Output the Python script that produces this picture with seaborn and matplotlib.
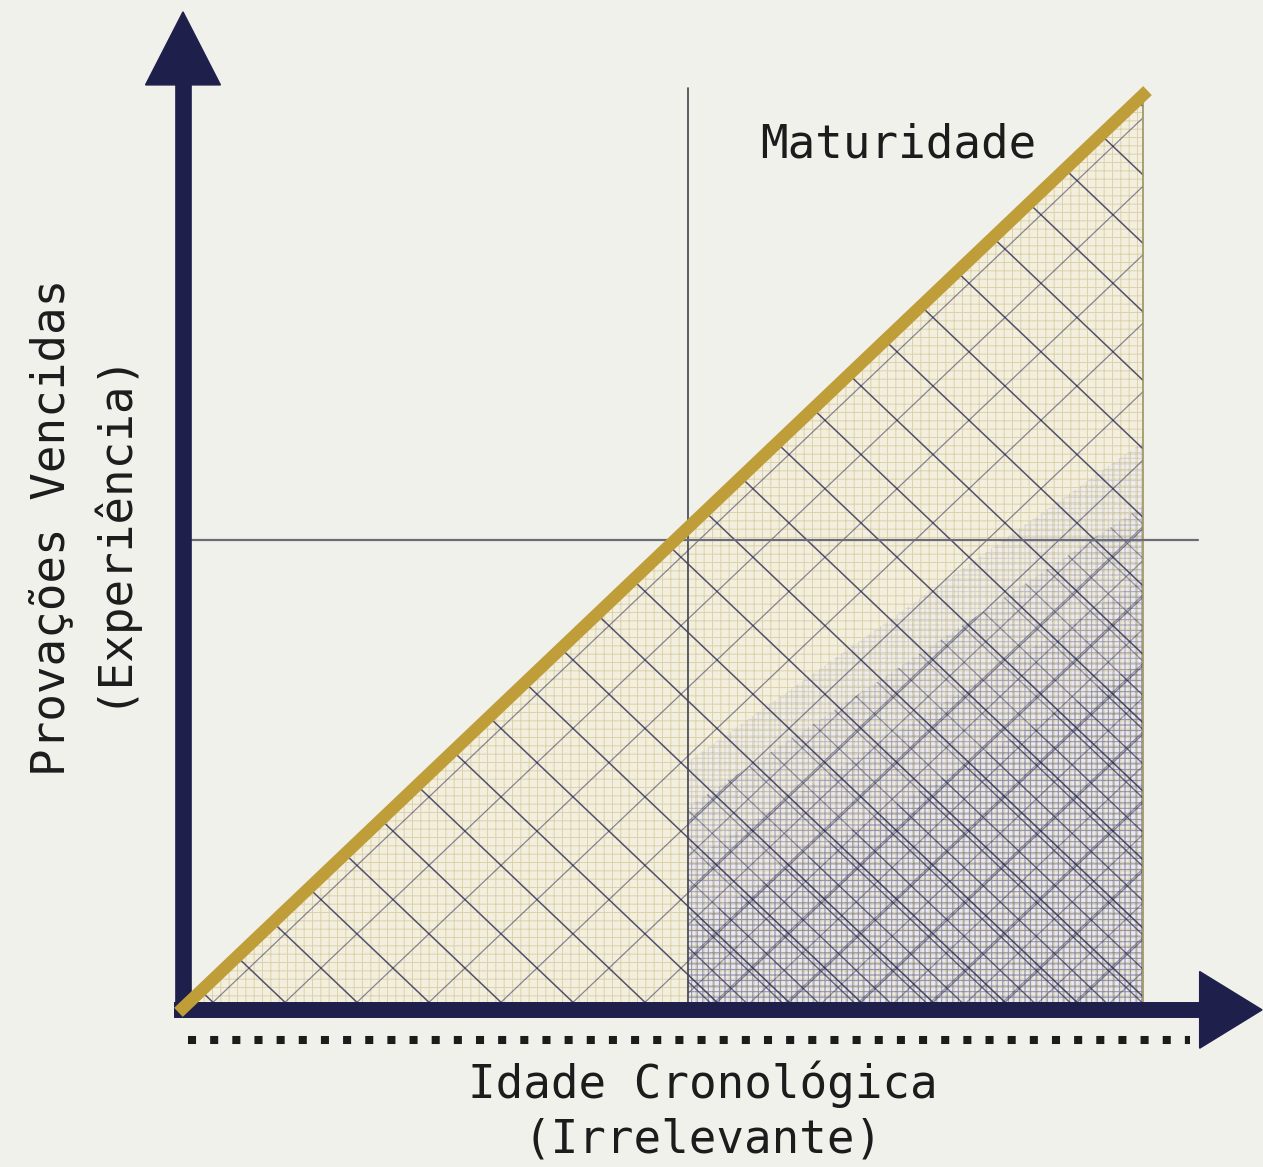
"""
Maturidade x Idade cronológica — diagrama conceitual.
"""

import numpy as np
import matplotlib.pyplot as plt
import matplotlib.patches as mpatches
from matplotlib.collections import LineCollection
import seaborn as sns

# ── Data ───────────────────────────────────────────────────────────────────────
idade = [0.0, 10.0]          # idade cronológica (eixo x)
provacoes = [0.0, 10.0]      # provações vencidas (eixo y)
ref_idade = 5.26             # linha vertical de referência
ref_provacoes = 5.13         # linha horizontal de referência
# zonas "densas" (canto inferior direito): altura junto à linha vertical e em x=10
zona_alt_ini = [2.7, 2.2, 1.6, 0.9]
zona_alt_fim = [6.2, 5.5, 4.7, 3.8]

titulo_linha = "Maturidade"
rotulo_x = ["Idade Cronológica", "(Irrelevante)"]
rotulo_y = ["Provações Vencidas", "(Experiência)"]

# ── Style ──────────────────────────────────────────────────────────────────────
BG = "#F1F1EC"
NAVY = "#1E1F4B"
GOLD = "#BF9E3A"
INK = "#1C1C1C"

sns.set_theme(style="white", rc={"axes.facecolor": BG, "figure.facecolor": BG})
plt.rcParams["font.family"] = ["DejaVu Sans Mono", "DejaVu Sans"]
plt.rcParams["hatch.linewidth"] = 0.7

fig = plt.figure(figsize=(12.63, 11.67), dpi=100)
ax = fig.add_axes([0, 0, 1, 1])
ax.set_xlim(-1.906, 11.25)
ax.set_ylim(-1.741, 11.04)
ax.axis("off")

x0, x1 = idade[0], idade[-1]
y0, y1 = provacoes[0], provacoes[-1]

# ── Triangle below the maturity line ─────────────────────────────────────────
tri_xy = [(x0, y0), (x1, y0), (x1, y1)]
tri = mpatches.Polygon(tri_xy, closed=True, facecolor="#F3EFDF",
                       edgecolor="none", zorder=1)
ax.add_patch(tri)
ax.add_patch(mpatches.Polygon(tri_xy, closed=True, facecolor="none",
                              edgecolor=(0.80, 0.73, 0.50, 0.55),
                              hatch="++", linewidth=0, zorder=2))

# bluish dense zone, stacked to fake a soft gradient
zonas = []
for ya, yb in zip(zona_alt_ini, zona_alt_fim):
    xy = [(ref_idade, y0), (x1, y0), (x1, yb), (ref_idade, ya)]
    ax.add_patch(mpatches.Polygon(xy, closed=True, facecolor=(0.90, 0.90, 0.95, 0.22),
                                  edgecolor="none", zorder=1.5))
    z = mpatches.Polygon(xy, closed=True, facecolor="none",
                         edgecolor=(0.25, 0.25, 0.42, 0.16),
                         hatch="+++", linewidth=0, zorder=2.5)
    ax.add_patch(z)
    zonas.append(z)

# navy diagonal lattice, clipped to the triangle
step = 0.75
segs_back = [[(c - 12, 12), (c + 12, -12)] for c in np.arange(step / 2, 2 * x1, step)]
segs_fwd = [[(c - 12, -12), (c + 12, 12)] for c in np.arange(step / 3, x1, step)]
lc1 = LineCollection(segs_back, colors=NAVY, linewidths=1.1, alpha=0.75, zorder=3)
lc2 = LineCollection(segs_fwd, colors=NAVY, linewidths=0.9, alpha=0.5, zorder=3)
for lc in (lc1, lc2):
    ax.add_collection(lc)
    lc.set_clip_path(tri)

# extra lines inside the dense zone
dense_b = [[(c - 12, 12), (c + 12, -12)] for c in np.arange(step * 0.9, 2 * x1, step / 2)]
dense_f = [[(c - 12, -12), (c + 12, 12)] for c in np.arange(step * 0.8, x1, step / 2)]
for segs, zi in ((dense_b, 1), (dense_f, 1), (dense_b, 3)):
    lc = LineCollection(segs, colors=NAVY, linewidths=0.9, alpha=0.4, zorder=3)
    ax.add_collection(lc)
    lc.set_clip_path(zonas[zi])

# right edge of the triangle
ax.plot([x1, x1], [y0, y1], color="#9C9263", lw=1.2, zorder=3)

# ── Reference lines ───────────────────────────────────────────────────────────
ax.plot([ref_idade, ref_idade], [y0, y1 + 0.08], color="#44444F", lw=1.2, zorder=4)
ax.plot([x0 + 0.09, x1 + 0.57], [ref_provacoes, ref_provacoes],
        color="#6C6C78", lw=1.6, zorder=4)

# ── Maturity line ──────────────────────────────────────────────────────────────
sns.lineplot(x=idade, y=provacoes, ax=ax, color=GOLD, linewidth=9,
             solid_capstyle="projecting", zorder=6)

# ── Axes arrows ────────────────────────────────────────────────────────────────
ax.plot([x0, x0], [y0 - 0.08, y1 + 0.15], color=NAVY, lw=12,
        solid_capstyle="butt", zorder=5)
ax.fill([x0 - 0.39, x0 + 0.39, x0], [y1 + 0.11, y1 + 0.11, y1 + 0.91],
        color=NAVY, zorder=5)
ax.plot([x0 - 0.09, x1 + 0.62], [y0 - 0.02, y0 - 0.02], color=NAVY, lw=11.5,
        solid_capstyle="butt", zorder=5)
ax.fill([x1 + 0.59, x1 + 0.59, x1 + 1.24], [y0 - 0.44, y0 + 0.40, y0 - 0.02],
        color=NAVY, zorder=5)

# dotted rule below the x axis
ax.plot([x0 + 0.05, x1 + 0.49], [y0 - 0.35, y0 - 0.35], color=INK, lw=5.8,
        linestyle=(0, (1, 1.75)), dash_capstyle="butt", zorder=5)

# ── Texts ─────────────────────────────────────────────────────────────────────
fs = 33
ax.text(7.45, 9.45, titulo_linha, fontsize=fs, color=INK,
        ha="center", va="center", zorder=7)
ax.text(5.42, -0.84, rotulo_x[0], fontsize=fs, color=INK, ha="center", va="center")
ax.text(5.42, -1.45, rotulo_x[1], fontsize=fs, color=INK, ha="center", va="center")
ax.text(-1.365, 5.26, rotulo_y[0], fontsize=fs, color=INK, rotation=90,
        ha="center", va="center")
ax.text(-0.76, 5.26, rotulo_y[1], fontsize=fs, color=INK, rotation=90,
        ha="center", va="center")

fig.savefig("out.png", dpi=100, facecolor=BG)
